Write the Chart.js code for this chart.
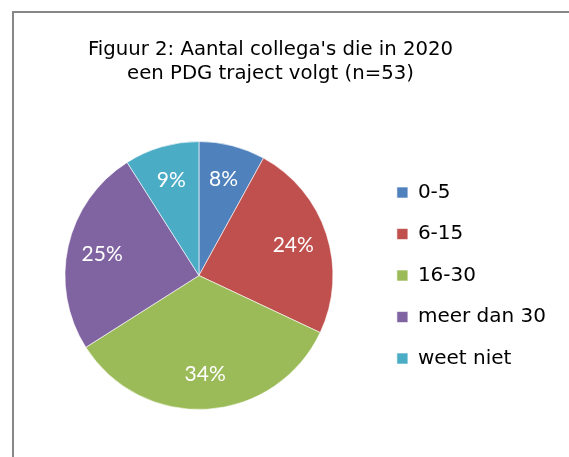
<!DOCTYPE html>
<html>
<head>
<meta charset="utf-8">
<script src="https://cdn.jsdelivr.net/npm/chart.js@4.4.1/dist/chart.umd.min.js"></script>
<style>
  html, body { margin: 0; padding: 0; background: #fff; overflow: hidden; }
  #wrap { position: relative; width: 569px; height: 457px; }
  #frame { position: absolute; left: 12px; top: 11px; width: 700px; height: 600px;
           border-left: 2px solid #878787; border-top: 2px solid #878787; }
  #chart { position: absolute; left: 0; top: 0; }
</style>
</head>
<body>
<div id="wrap">
  <div id="frame"></div>
  <canvas id="chart" width="569" height="457"></canvas>
</div>
<script>
// figuur 2 - aantal collega's met PDG traject
var categories = ['0-5', '6-15', '16-30', 'meer dan 30', 'weet niet'];
var percentages = [8, 24, 34, 25, 9];
var sliceColors = ['#4F81BD', '#C0504D', '#9BBB59', '#8064A2', '#4BACC6'];
var titleLines = ["Figuur 2: Aantal collega's die in 2020", 'een PDG traject volgt (n=53)'];

// percentages in the slices, like excel data labels
var sliceLabels = {
	id: 'sliceLabels',
	afterDatasetsDraw: function(chart) {
		var ctx = chart.ctx;
		var meta = chart.getDatasetMeta(0);
		ctx.save();
		ctx.fillStyle = '#ffffff';
		ctx.font = '21px Lato';
		ctx.textAlign = 'center';
		ctx.textBaseline = 'middle';
		for (var i = 0; i < meta.data.length; i++) {
			var arc = meta.data[i];
			var mid = (arc.startAngle + arc.endAngle) / 2;
			var r = arc.outerRadius * 0.74;
			ctx.fillText(percentages[i] + '%', arc.x + Math.cos(mid) * r, arc.y + Math.sin(mid) * r);
		}
		ctx.restore();
	}
};

// the original frame is wider than the crop, title is centred on that frame
var titleInFrame = {
	id: 'titleInFrame',
	afterLayout: function(chart) {
		chart.titleBlock.left = 22.5;
		chart.titleBlock.right = 518.5;
		chart.titleBlock.width = 496;
	}
};

var chartObj = new Chart(document.getElementById('chart'), {
	type: 'pie',
	data: {
		labels: categories,
		datasets: [{
			data: percentages,
			backgroundColor: sliceColors,
			borderColor: 'rgba(255,255,255,0.6)',
			borderWidth: 1
		}]
	},
	options: {
		responsive: false,
		animation: false,
		radius: 134,
		layout: { padding: { left: 22.5, right: 13, top: 0, bottom: 43 } },
		plugins: {
			tooltip: { enabled: false },
			title: {
				display: true,
				text: titleLines,
				color: '#000',
				font: { family: 'DejaVu Sans', size: 19.7, weight: 'normal', lineHeight: 1.22 },
				padding: { top: 38, bottom: 51 }
			},
			legend: {
				position: 'right',
				fullSize: false,
				labels: {
					boxWidth: 11,
					boxHeight: 11,
					padding: 21.5,
					color: '#000',
					font: { family: 'DejaVu Sans', size: 20 }
				}
			}
		}
	},
	plugins: [sliceLabels, titleInFrame]
});
</script>
</body>
</html>
